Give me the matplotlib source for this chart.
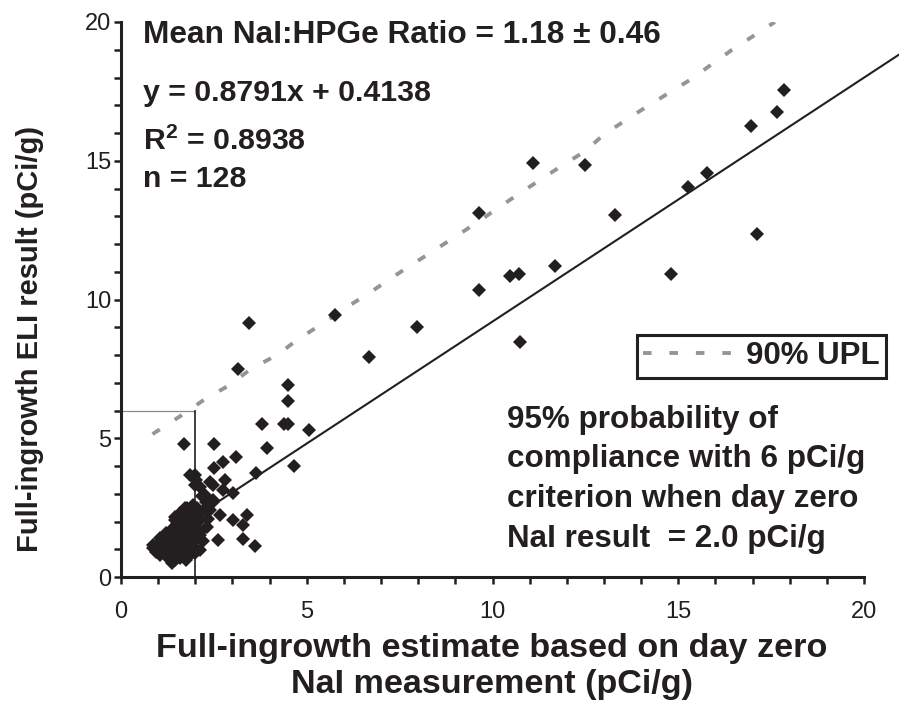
import matplotlib
matplotlib.use("Agg")
import matplotlib.pyplot as plt
from matplotlib.ticker import MultipleLocator, FuncFormatter

plt.rcParams['font.family'] = ['Liberation Sans', 'DejaVu Sans']
plt.rcParams['mathtext.fontset'] = 'custom'
plt.rcParams['mathtext.rm'] = 'Liberation Sans'
plt.rcParams['mathtext.bf'] = 'Liberation Sans:bold'

INK = '#231f20'

# day-zero NaI full-ingrowth estimate vs ELI result (pCi/g)
x_vals = [17.85, 17.66, 16.96, 11.1, 12.5, 9.65, 13.31, 17.12, 15.78, 15.27,
          11.67, 10.46, 10.7, 9.65, 7.96, 14.81, 10.75, 6.67, 5.75, 3.44,
          3.15, 4.49, 4.49, 3.79, 4.38, 4.5, 5.05, 3.92, 4.65, 1.69,
          2.5, 3.09, 2.74, 2.5, 3.63, 1.85, 2.0, 2.8, 2.47, 2.12,
          3.01, 2.74, 2.18, 2.47, 2.04, 1.9, 2.66, 3.01, 3.39, 3.28,
          2.31, 2.12, 2.61, 3.28, 3.6, 1.94, 1.72, 1.45, 0.86, 1.05,
          1.37, 2.02,
          1.99, 2.39, 2.26, 2.47, 1.77, 1.59, 1.45, 2.07, 1.8, 1.59,
          1.26, 1.05, 0.86, 1.1, 1.32, 1.5, 1.72, 1.99, 2.12, 2.12,
          1.85,
          1.0, 1.1, 1.2, 1.15, 1.3, 1.25, 1.4, 1.45, 1.35, 1.5,
          1.55, 1.6, 1.65, 1.7, 1.75, 1.8, 1.85, 1.9, 1.95, 2.0,
          1.6, 1.45, 1.8, 2.05, 2.15, 2.2, 1.5, 1.4, 1.7, 2.25,
          1.95, 2.3, 2.35, 1.2, 1.05, 0.95, 1.3, 2.0, 1.75, 2.1,
          1.85, 1.65, 1.55, 2.4]
y_vals = [17.55, 16.76, 16.25, 14.92, 14.85, 13.12, 13.04, 12.36, 14.56, 14.05,
          11.21, 10.85, 10.92, 10.34, 9.0, 10.92, 8.47, 7.93, 9.44, 9.15,
          7.5, 6.92, 6.35, 5.51, 5.51, 5.5, 5.3, 4.65, 4.0, 4.8,
          4.79, 4.32, 4.14, 3.93, 3.75, 3.68, 3.68, 3.5, 3.32, 3.24,
          3.03, 3.14, 2.92, 2.77, 2.49, 2.34, 2.23, 2.05, 2.23, 1.87,
          1.8, 1.51, 1.33, 1.37, 1.12, 1.08, 2.49, 2.16, 1.05, 0.79,
          0.5, 3.5,
          3.32, 3.42, 2.95, 2.7, 2.49, 2.31, 2.05, 2.16, 1.59, 1.62,
          1.44, 1.23, 1.15, 0.9, 0.72, 0.9, 1.15, 1.41, 1.62, 0.97,
          0.79,
          1.0, 1.1, 0.95, 1.3, 1.2, 0.85, 1.0, 1.35, 1.55, 1.15,
          1.5, 1.3, 1.75, 1.0, 1.4, 1.85, 1.2, 1.6, 2.0, 1.3,
          0.7, 0.6, 0.95, 1.75, 2.1, 1.3, 1.9, 1.75, 2.1, 2.45,
          2.6, 2.7, 2.1, 1.6, 1.4, 0.9, 0.65, 0.85, 0.6, 2.3,
          2.2, 1.15, 0.95, 2.4]

# 90% upper prediction limit
upl_x = [0.85, 1.6, 2.25, 2.9, 3.5, 4.2, 4.8, 5.45, 6.05, 6.7, 7.7, 8.35,
         9.5, 10.7, 11.9, 12.5, 13.0, 14.15, 15.3, 16.45, 17.6]
upl_y = [5.15, 5.8, 6.4, 6.9, 7.5, 8.0, 8.6, 9.15, 9.7, 10.25, 11.15, 11.7,
         12.7, 13.8, 14.85, 15.35, 15.95, 16.95, 17.9, 19.0, 20.0]

slope, intercept = 0.8791, 0.4138
fit_x = [0.9, 21.0]
fit_y = [slope * v + intercept for v in fit_x]

crit_x = 2.0   # day zero NaI result
crit_y = 6.0   # criterion

W, H = 899, 708
fig = plt.figure(figsize=(W / 100, H / 100), dpi=100)
ax = fig.add_axes([121 / W, 1 - 577 / H, (864 - 121) / W, (577 - 22) / H])

def fx(px):
    return px / W

def fy(py):
    return 1 - py / H

ax.plot([0, crit_x], [crit_y, crit_y], color='#8a8a8a', lw=0.9, zorder=2)
ax.plot([crit_x, crit_x], [0, crit_y], color=INK, lw=1.2, zorder=2)
ax.plot(fit_x, fit_y, color=INK, lw=1.5, clip_on=False, zorder=3)
upl_line, = ax.plot(upl_x, upl_y, color='#959595', lw=2.8,
                    linestyle=(0, (2.2, 4.6)), zorder=3, label='90% UPL')
ax.plot(x_vals, y_vals, linestyle='none', marker='D', ms=7.4, color=INK,
        markeredgewidth=0, zorder=4)

ax.set_xlim(0, 20)
ax.set_ylim(0, 20)
for s in ['top', 'right']:
    ax.spines[s].set_visible(False)
for s in ['left', 'bottom']:
    ax.spines[s].set_linewidth(2.2)
    ax.spines[s].set_color(INK)

fmt = FuncFormatter(lambda v, p: f"{int(round(v))}" if round(v) % 5 == 0 else "")
for axis in (ax.xaxis, ax.yaxis):
    axis.set_major_locator(MultipleLocator(1))
    axis.set_major_formatter(fmt)
ax.tick_params(axis='both', direction='out', length=5, width=1.8, color=INK,
               labelsize=17, labelcolor=INK)
ax.tick_params(axis='x', pad=12)
ax.tick_params(axis='y', pad=2)

# axis titles
fig.text(fx(492), fy(648), 'Full-ingrowth estimate based on day zero',
         ha='center', va='center', fontsize=24.6, fontweight='bold', color=INK)
fig.text(fx(492), fy(685), 'NaI measurement (pCi/g)',
         ha='center', va='center', fontsize=24.6, fontweight='bold', color=INK)
fig.text(fx(30), fy(339), 'Full-ingrowth ELI result (pCi/g)', rotation=90,
         ha='center', va='center', fontsize=21, fontweight='bold', color=INK)

# statistics block
stats = ['Mean NaI:HPGe Ratio = 1.18 \u00b1 0.46',
         'y = 0.8791x + 0.4138',
         r'R$^{\mathbf{2}}$ = 0.8938',
         'n = 128']
stats_size = [22.8, 21.8, 21.8, 21.8]
stats_base = [43, 101, 150, 187]
for s, sz, b in zip(stats, stats_size, stats_base):
    fig.text(fx(143), fy(b), s, ha='left', va='baseline', fontsize=sz,
             fontweight='bold', color=INK)

# compliance note
note = ['95% probability of',
        'compliance with 6 pCi/g',
        'criterion when day zero',
        'NaI result  = 2.0 pCi/g']
note_base = [428, 467, 507, 547]
for s, b in zip(note, note_base):
    fig.text(fx(507), fy(b), s, ha='left', va='baseline', fontsize=22.6,
             fontweight='bold', color=INK)

leg = ax.legend(handles=[upl_line], loc='upper left',
                bbox_to_anchor=(fx(637), fy(335)), bbox_transform=fig.transFigure,
                frameon=True, fancybox=False, framealpha=1, edgecolor=INK,
                handlelength=3.0, handletextpad=0.3, borderpad=0.2,
                borderaxespad=0,
                prop={'size': 22.5, 'weight': 'bold'})
leg.get_frame().set_linewidth(2.2)
for t in leg.get_texts():
    t.set_color(INK)

fig.savefig('out.png', dpi=100)
